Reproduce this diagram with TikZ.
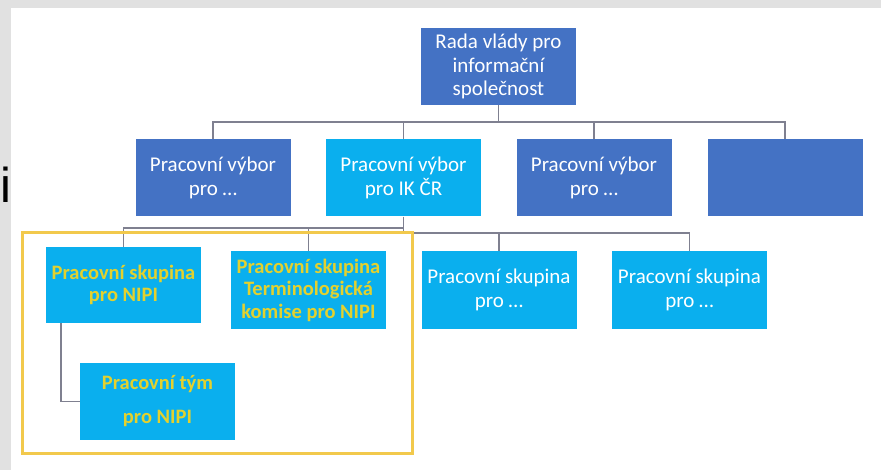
\documentclass[tikz,border=0pt]{standalone}
\usepackage{fontspec}
\setmainfont{Carlito}
\newfontfamily\bigsans{Liberation Sans}
\definecolor{dkblue}{HTML}{4472C4}
\definecolor{ltblue}{HTML}{0AAFEE}
\definecolor{ytext}{HTML}{E3D12E}
\definecolor{yframe}{HTML}{F2C94C}
\definecolor{conn}{HTML}{7F8090}
\definecolor{strip}{HTML}{E1E1E1}
\begin{document}
\begin{tikzpicture}[x=1pt,y=-1pt,
  box/.style={rectangle, inner sep=0pt, minimum width=155pt, minimum height=77pt,
    align=center, text=white, font=\fontsize{21}{23.5}\selectfont},
  dk/.style={box, fill=dkblue},
  lt/.style={box, fill=ltblue},
  yl/.style={box, fill=ltblue, text=ytext, font=\fontsize{20.5}{22.5}\bfseries\selectfont},
  link/.style={draw=conn, line width=1.3pt},
]
\useasboundingbox (0,0) rectangle (881,470);
\fill[white] (0,0) rectangle (881,470);
\fill[strip] (0,0) rectangle (881,8);
\fill[strip] (0,0) rectangle (11,470);
\node[anchor=base west, inner sep=0pt, font=\bigsans\fontsize{49}{49}\selectfont] (ichar) at (0.5,203) {i};

\node[dk] (top) at (498.5,66.5) {Rada vlády pro\\informační\\společnost};
\node[dk] (A) at (213,178) {Pracovní výbor\\pro …};
\node[lt] (B) at (403.5,178) {Pracovní výbor\\pro IK ČR};
\node[dk] (C) at (594,178) {Pracovní výbor\\pro …};
\node[dk] (D) at (785,178) {};

\node[yl, minimum height=76pt] (E) at (123.5,285) {Pracovní skupina\\pro NIPI};
\node[yl, minimum height=78pt] (F) at (308.5,290) {Pracovní skupina\\Terminologická\\komise pro NIPI};
\node[lt, minimum height=78pt] (G) at (499,290) {Pracovní skupina\\pro …};
\node[lt, minimum height=78pt] (H) at (689.5,290) {Pracovní skupina\\pro …};
\node[yl, font=\fontsize{20.5}{34}\bfseries\selectfont] (I) at (157.5,401.5) {Pracovní tým\\pro NIPI};

\coordinate (b1) at (498.5,122);
\coordinate (b2l) at (403.5,228);
\coordinate (b2r) at (403.5,233);

\draw[link] (top.south) -- (b1);
\draw[link] (A.north) |- (b1) -| (D.north);
\draw[link] (B.north) -- (B.north |- b1);
\draw[link] (C.north) -- (C.north |- b1);

\draw[link] (B.south) -- (b2r) -| (H.north);
\draw[link] (G.north) -- (G.north |- b2r);
\draw[link] (E.north) |- (b2l);
\draw[link] (F.north) -- (F.north |- b2l);
\draw[link] ([xshift=-62.5pt]E.south) |- (I.west);

\draw[yframe, line width=3pt] (22,233) rectangle (412,453);
\end{tikzpicture}
\end{document}
